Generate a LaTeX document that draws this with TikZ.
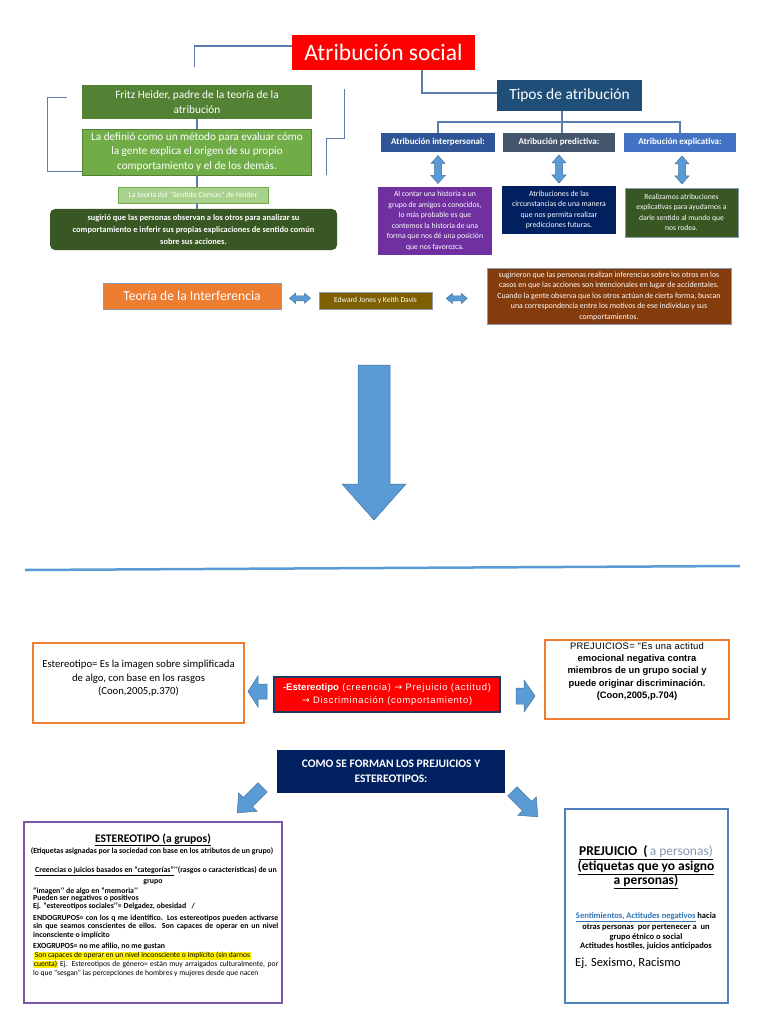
\documentclass[tikz,border=0pt]{standalone}
\usepackage{fontspec}
\setmainfont{Carlito}
\newfontfamily\arialf{Liberation Sans}
\newfontfamily\arialsp[LetterSpace=8]{Liberation Sans}
\newfontfamily\arialsq[LetterSpace=3]{Liberation Sans}
\newfontfamily\djv{DejaVu Sans}
\usetikzlibrary{calc}
\definecolor{titlered}{HTML}{FF0000}
\definecolor{tiposblue}{HTML}{1F4E79}
\definecolor{interblue}{HTML}{2F5597}
\definecolor{predgray}{HTML}{44546A}
\definecolor{explblue}{HTML}{4472C4}
\definecolor{purp}{HTML}{7030A0}
\definecolor{navy}{HTML}{002060}
\definecolor{dkgreen}{HTML}{385723}
\definecolor{fritzgreen}{HTML}{548235}
\definecolor{ltgreen}{HTML}{70AD47}
\definecolor{palegreen}{HTML}{A9D18E}
\definecolor{orng}{HTML}{ED7D31}
\definecolor{olive}{HTML}{7F6000}
\definecolor{brwn}{HTML}{843C0C}
\definecolor{conncol}{HTML}{5B7DB1}
\definecolor{arrowblue}{HTML}{5B9BD5}
\definecolor{arrowedge}{HTML}{41719C}
\definecolor{redborder}{HTML}{1F3864}
\definecolor{blborder}{HTML}{7A57A8}
\definecolor{brborder}{HTML}{4F81BD}
\definecolor{grayblue}{HTML}{8497B0}
\definecolor{lnk}{HTML}{2E75B6}
\definecolor{thinedge}{HTML}{8A9AB3}
\newcommand\fs[2]{\fontsize{#1}{#2}\selectfont}
\begin{document}
\begin{tikzpicture}[x=1pt,y=-1pt,
  box/.style={inner sep=0pt, align=center, text=white},
  conn/.style={draw=conncol, line width=1.3pt},
  arrowst/.style={fill=arrowblue, draw=arrowedge, line width=0.5pt},
  lline/.style={inner sep=0pt, anchor=west, text=black},
  cline/.style={inner sep=0pt, text=black},
  pics/barrow/.style n args={4}{code={
    \filldraw[arrowst] (0,-#2/2) -- (#1-#4,-#2/2) -- (#1-#4,-#3/2) -- (#1,0)
      -- (#1-#4,#3/2) -- (#1-#4,#2/2) -- (0,#2/2) -- cycle;}},
  pics/dbarrow/.style n args={4}{code={
    \filldraw[arrowst] (-#1/2,0) -- (-#1/2+#4,-#3/2) -- (-#1/2+#4,-#2/2)
      -- (#1/2-#4,-#2/2) -- (#1/2-#4,-#3/2) -- (#1/2,0) -- (#1/2-#4,#3/2)
      -- (#1/2-#4,#2/2) -- (-#1/2+#4,#2/2) -- (-#1/2+#4,#3/2) -- cycle;}}
]
\useasboundingbox[fill=white] (0,0) rectangle (768,1024);

% ---------- top section ----------
\node[box, fill=titlered, minimum width=183, minimum height=35, font=\fs{23.5}{26}] (title) at (383.5,52.5) {Atribución social};
\node[box, fill=tiposblue, minimum width=145, minimum height=31, font=\fs{15.5}{18}] (tipos) at (569.5,95.5) {Tipos de atribución};

\node[box, fill=interblue, minimum width=114, minimum height=19, font=\bfseries\fs{9}{10}] (inter) at (438,142.5) {Atribución interpersonal:};
\node[box, fill=predgray, minimum width=112, minimum height=19, font=\bfseries\fs{9}{10}] (pred) at (559,142.5) {Atribución predictiva:};
\node[box, fill=explblue, minimum width=112, minimum height=19, font=\bfseries\fs{9}{10}] (expl) at (680,142.5) {Atribución explicativa:};

\node[box, fill=purp, minimum width=114, minimum height=68, font=\fs{7.7}{10.5}] (purple) at (435,221) {Al contar una historia a un\\grupo de amigos o conocidos,\\lo más probable es que\\contemos la historia de una\\forma que nos dé una posición\\que nos favorezca.};
\node[box, fill=navy, minimum width=114, minimum height=48, font=\fs{7.8}{10.6}] (navyb) at (559,210) {Atribuciones de las\\circunstancias de una manera\\que nos permita realizar\\predicciones futuras.};
\node[box, fill=dkgreen, draw=thinedge, line width=0.6pt, minimum width=113, minimum height=49, font=\fs{7.6}{10.5}] (greenb) at (681.5,212.5) {Realizamos atribuciones\\explicativas para ayudarnos a\\darle sentido al mundo que\\nos rodea.};

\node[box, fill=fritzgreen, minimum width=230, minimum height=34, font=\fs{11.3}{15}] (fritz) at (197,102) {Fritz Heider, padre de la teoría de la\\atribución};
\node[box, fill=ltgreen, draw=fritzgreen, line width=0.6pt, minimum width=229, minimum height=46, font=\fs{11.2}{14.5}] (definio) at (197,152) {La definió como un método para evaluar cómo\\la gente explica el origen de su propio\\comportamiento y el de los demás.};
\node[box, fill=palegreen, draw=ltgreen, line width=0.5pt, minimum width=150, minimum height=16, font=\fs{7.8}{8}] (sentido) at (193,195) {La teoría del “Sentido Común” de Heider};
\node[box, fill=dkgreen, rounded corners=5pt, minimum width=287, minimum height=41, font=\bfseries\fs{8.4}{12}] (sug) at (193.5,229.5) {sugirió que las personas observan a los otros para analizar su\\comportamiento e inferir sus propias explicaciones de sentido común\\sobre sus acciones.};

% connectors top
\draw[conn] ([yshift=6.5pt]title.west) -- ++(-97,0) -- ++(0,21);
\draw[conn] ([xshift=38.5pt]title.south) |- ([yshift=2.5pt]tipos.west);
\coordinate (bar) at (562,122);
\draw[conn] ([xshift=-7.5pt]tipos.south) -- ([xshift=3pt]pred.north);
\draw[conn] (inter.north) |- (bar) -| (expl.north);
\draw[conn] (fritz.south) -- (definio.north);
\draw[conn] (definio.south) -- (definio.south |- sentido.north);
\draw[conn] (definio.south |- sentido.south) -- (definio.south |- sug.north);
\draw[conn] ([yshift=4pt]definio.south west) -- ++(-35,0) -- ++(0,-74) -- ++(20,0);
\draw[conn] ([xshift=15pt]definio.south east) -- ++(0,-37) -- ++(18,0) -- ++(0,-49);

\pic[rotate=90] at ($(inter.south)!0.5!(inter.south |- purple.north)$) {dbarrow={28}{7}{14}{8}};
\pic[rotate=90] at ($(pred.south)!0.5!(pred.south |- navyb.north)$) {dbarrow={28}{7}{14}{8}};
\pic[rotate=90] at ($([xshift=2pt]expl.south)!0.5!([xshift=2pt]expl.south |- greenb.north)$) {dbarrow={28}{7}{14}{8}};

% middle row
\node[box, fill=orng, draw=thinedge, line width=0.6pt, minimum width=178, minimum height=26, font=\fs{13.6}{15}] (teoria) at (192,296) {Teoría de la Interferencia};
\node[box, fill=olive, draw=thinedge, line width=0.6pt, minimum width=113, minimum height=17, font=\fs{7.6}{8}] (edward) at (375.5,300.5) {Edward Jones y Keith Davis};
\node[box, fill=brwn, draw=thinedge, line width=0.6pt, minimum width=244, minimum height=56, font=\fs{7.9}{10.5}] (brown) at (609,296) {sugirieron que las personas realizan inferencias sobre los otros en los\\casos en que las acciones son intencionales en lugar de accidentales.\\Cuando la gente observa que los otros actúan de cierta forma, buscan\\una correspondencia entre los motivos de ese individuo y sus\\comportamientos.};
\pic at ($(teoria.east)!0.5!(edward.west)$) {dbarrow={21}{5}{10}{6}};
\pic at ($(edward.east)!0.45!(brown.west)$) {dbarrow={21}{5}{10}{6}};

% big arrow and line
\pic[rotate=-90] at (374,365) {barrow={155}{32}{64}{36}};
\draw[draw=arrowblue, line width=2.5pt] (25,570) -- (740,566);

% ---------- lower section ----------
\node[draw=orng, line width=1.5pt, fill=white, minimum width=211, minimum height=80, inner sep=0pt] (estereo) at (138.5,683) {};
\node[cline, align=center, font=\fs{10.7}{13.5}] (estereotxt) at (138.5,678.5) {Estereotipo= Es la imagen sobre simplificada\\de algo, con base en los rasgos\\(Coon,2005,p.370)};

\node[box, fill=titlered, draw=redborder, line width=2.5pt, minimum width=226, minimum height=35, font=\arialsp\fs{9.4}{12.5}] (redb) at (387,694.5) {{\arialf\bfseries\fs{9.6}{12.5}-Estereotipo} (creencia) {\djv →} Prejuicio (actitud)\\{\djv →} Discriminación (comportamiento)};

\node[draw=orng, line width=1.5pt, fill=white, minimum width=184, minimum height=79, inner sep=0pt] (prej) at (637,679.5) {};
\node[cline, align=center, font=\arialf\fs{9.4}{12.3}] (prejtxt) at (637,671.5) {{\arialsq PREJUICIOS= "Es una actitud}\\\textbf{emocional negativa contra}\\\textbf{miembros de un grupo social y}\\\textbf{puede originar discriminación.}\\\textbf{(Coon,2005,p.704)}};

\pic[rotate=180] at (267,691.5) {barrow={19}{15}{31}{10}};
\pic at (516,696) {barrow={19}{16}{32}{11}};

\node[box, fill=navy, minimum width=228, minimum height=43, font=\bfseries\fs{11.5}{15}] (como) at (391,771.5) {COMO SE FORMAN LOS PREJUICIOS Y\\ESTEREOTIPOS:};

\pic[rotate=-135] at (262.7,787.3) {barrow={36}{13}{26}{15}};
\pic[rotate=-45] at (512.3,791.3) {barrow={36}{13}{26}{15}};

% bottom-left box
\node[draw=blborder, line width=1.2pt, minimum width=258, minimum height=181, inner sep=0pt] (blbox) at (153,912.5) {};
\node[cline, font=\bfseries\fs{11.6}{12}] (bl1) at (153,840) {\underline{ESTEREOTIPO (a grupos)}};
\node[cline, font=\bfseries\fs{7.8}{8}] (bl2) at (152,851) {(Etiquetas asignadas por la sociedad con base en los atributos de un grupo)};
\node[cline, font=\bfseries\fs{7.8}{8}] (bl3) at (156,871) {\underline{Creencias o juicios basados en “categorías”}’’(rasgos o características) de un};
\node[cline, font=\bfseries\fs{7.8}{8}] (bl4) at (153,882) {grupo};
\node[lline, font=\bfseries\fs{7.8}{8}] (bl5) at (33,891) {“imagen’’ de algo en “memoria’’};
\node[lline, font=\bfseries\fs{7.8}{8}] (bl6) at (33,898.5) {Pueden ser negativos o positivos};
\node[lline, font=\bfseries\fs{7.8}{8}] (bl7) at (33,906) {Ej. “estereotipos sociales’’= Delgadez, obesidad \ \ /};
\node[lline, font=\bfseries\fs{7.8}{8}] (bl8) at (33,918) {\makebox[245pt][s]{ENDOGRUPOS= con los q me identifico. Los estereotipos pueden activarse}};
\node[lline, font=\bfseries\fs{7.8}{8}] (bl9) at (33,926.5) {\makebox[245pt][s]{sin que seamos conscientes de ellos. Son capaces de operar en un nivel}};
\node[lline, font=\bfseries\fs{7.8}{8}] (bl10) at (33,935) {inconsciente o implícito};
\node[lline, font=\bfseries\fs{7.8}{8}] (bl11) at (33,946.5) {EXOGRUPOS= no me afilio, no me gustan};
\node[lline, fill=yellow, inner sep=0.6pt, font=\fs{7.6}{8}] (bl12) at (34,955.5) {Son capaces de operar en un nivel inconsciente o implícito (sin darnos};
\node[lline, font=\fs{7.6}{8}] (bl13) at (33,964.5) {\makebox[245pt][s]{{\setlength\fboxsep{0.6pt}\colorbox{yellow}{cuenta)}} Ej. Estereotipos de género= están muy arraigados culturalmente, por}};
\node[lline, font=\fs{7.6}{8}] (bl14) at (33,973) {lo que “sesgan” las percepciones de hombres y mujeres desde que nacen};

% bottom-right box
\node[draw=brborder, line width=1.2pt, minimum width=163, minimum height=194, inner sep=0pt] (brbox) at (646.5,906) {};
\node[cline, font=\bfseries\fs{13.5}{14}] (br1) at (646,853) {\underline{PREJUICIO \ (\,{\mdseries\color{grayblue}a personas)}}};
\node[cline, font=\bfseries\fs{13.5}{14}] (br2) at (646,868) {\underline{(etiquetas que yo asigno}};
\node[cline, font=\bfseries\fs{13.5}{14}] (br3) at (646,882) {\underline{a personas)}};
\node[cline, font=\bfseries\fs{8.5}{9}] (br4) at (646,917) {\textcolor{lnk}{\underline{Sentimientos, Actitudes negativos}} hacia};
\node[cline, font=\bfseries\fs{8.5}{9}] (br5) at (646,927) {otras personas \ por pertenecer a \ un};
\node[cline, font=\bfseries\fs{8.5}{9}] (br6) at (646,937) {grupo étnico o social};
\node[cline, font=\bfseries\fs{8.5}{9}] (br7) at (646,946) {Actitudes hostiles, juicios anticipados};
\node[lline, font=\fs{12.5}{13}] (br8) at (575,963) {Ej. Sexismo, Racismo};
\end{tikzpicture}
\end{document}
